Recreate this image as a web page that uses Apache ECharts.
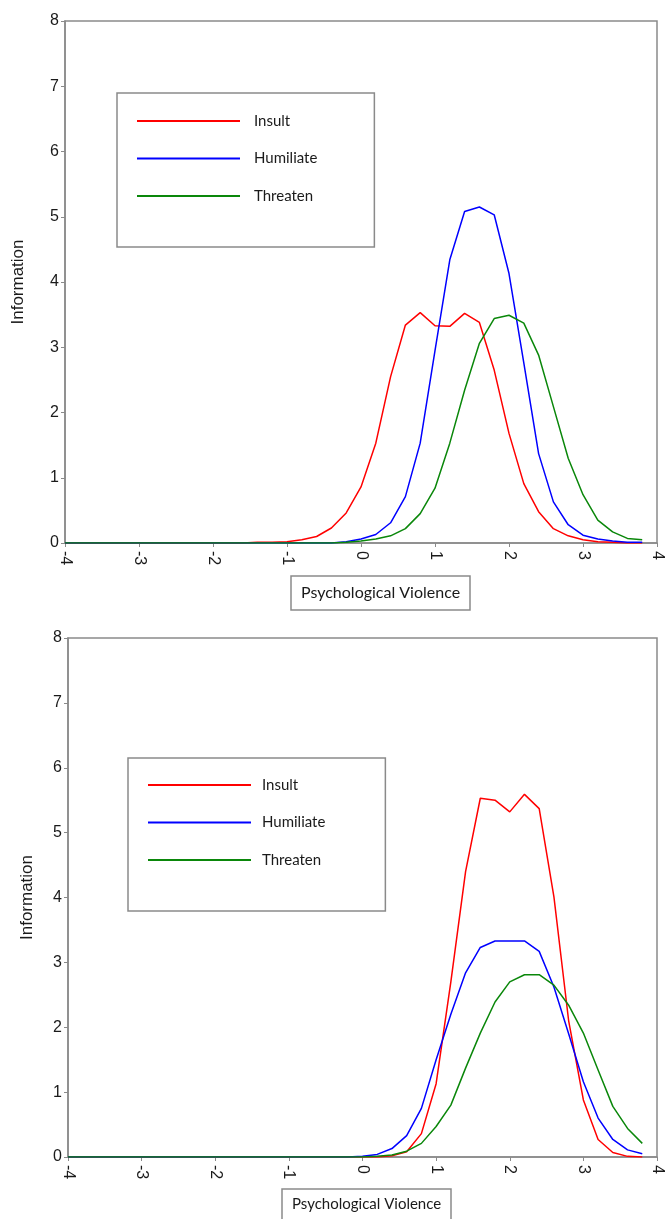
<!DOCTYPE html>
<html>
<head>
<meta charset="utf-8">
<script src="https://cdn.jsdelivr.net/npm/echarts@6/dist/echarts.min.js"></script>
<style>
html,body{margin:0;padding:0;background:#fff;}
#chart{width:665px;height:1219px;}
</style>
</head>
<body>
<div id="chart"></div>
<script>
const xs = [-4, -3.8, -3.6, -3.4, -3.2, -3, -2.8, -2.6, -2.4, -2.2, -2, -1.8, -1.6, -1.4, -1.2, -1, -0.8, -0.6, -0.4, -0.2, 0, 0.2, 0.4, 0.6, 0.8, 1, 1.2, 1.4, 1.6, 1.8, 2, 2.2, 2.4, 2.6, 2.8, 3, 3.2, 3.4, 3.6, 3.8];

const seriesNames = ['Insult', 'Humiliate', 'Threaten'];
const xAxisTitle = 'Psychological Violence';
const yAxisTitle = 'Information';

// Top panel
const topInsult = [0,0,0,0,0,0,0,0,0,0,0,0,0, 0.01,0.01,0.02,0.05,0.10,0.23,0.46,0.86,1.53,2.55,3.34,3.53,3.33,3.32,3.52,3.38,2.65,1.68,0.91,0.48,0.22,0.11,0.05,0.02,0.01,0,0];
const topHumiliate = [0,0,0,0,0,0,0,0,0,0,0,0,0,0,0,0,0,0,0, 0.02,0.06,0.13,0.31,0.71,1.53,2.95,4.34,5.08,5.15,5.03,4.13,2.76,1.37,0.63,0.28,0.12,0.06,0.03,0.01,0.01];
const topThreaten = [0,0,0,0,0,0,0,0,0,0,0,0,0,0,0,0,0,0,0, 0.01,0.03,0.06,0.11,0.22,0.45,0.84,1.53,2.34,3.06,3.44,3.49,3.37,2.88,2.09,1.30,0.74,0.35,0.17,0.07,0.05];

// Bottom panel
const botInsult = [0,0,0,0,0,0,0,0,0,0,0,0,0,0,0,0,0,0,0,0,0,0, 0.02,0.08,0.36,1.13,2.7,4.40,5.53,5.50,5.32,5.59,5.37,4.01,2.1,0.88,0.27,0.07,0.01,0];
const botHumiliate = [0,0,0,0,0,0,0,0,0,0,0,0,0,0,0,0,0,0,0,0, 0.01,0.04,0.13,0.33,0.75,1.5,2.2,2.84,3.23,3.33,3.33,3.33,3.17,2.62,1.9,1.16,0.6,0.27,0.11,0.05];
const botThreaten = [0,0,0,0,0,0,0,0,0,0,0,0,0,0,0,0,0,0,0,0,0, 0.01,0.03,0.09,0.21,0.47,0.8,1.37,1.91,2.39,2.7,2.81,2.81,2.65,2.34,1.91,1.34,0.78,0.44,0.21];

const colors = ['#ff0000', '#0000ff', '#0a870a'];
const GRAY = '#8a8a8a';
const TXT = '#1a1a1a';
const AXFONT = 'Liberation Sans, Arial, sans-serif';

function pairs(ys) { return xs.map((x, i) => [x, ys[i]]); }

function xAxisOpt(gridIndex) {
  return {
    type: 'value', gridIndex, min: -4, max: 4, interval: 1,
    axisLine: { show: true, onZero: false, lineStyle: { color: GRAY, width: 1.5 } },
    axisTick: { show: true, length: 4, lineStyle: { color: GRAY } },
    axisLabel: { rotate: -90, margin: 8, fontSize: 16, fontFamily: AXFONT, color: TXT },
    splitLine: { show: false }
  };
}
function yAxisOpt(gridIndex, gap) {
  return {
    type: 'value', gridIndex, min: 0, max: 8, interval: 1,
    name: yAxisTitle, nameLocation: 'middle', nameRotate: 90, nameGap: gap,
    nameTextStyle: { fontSize: 17, fontFamily: AXFONT, color: TXT },
    axisLine: { show: true, onZero: false, lineStyle: { color: GRAY, width: 1.5 } },
    axisTick: { show: true, length: 4, lineStyle: { color: GRAY } },
    axisLabel: { margin: 6, fontSize: 16, fontFamily: AXFONT, color: TXT },
    splitLine: { show: false }
  };
}
function legendOpt(left, top, padding, textPad) {
  return {
    orient: 'vertical', left, top, padding,
    data: seriesNames,
    icon: 'rect', itemWidth: 103, itemHeight: 2, itemGap: 19.5,
    borderColor: GRAY, borderWidth: 1.5, backgroundColor: '#fff',
    selectedMode: false,
    textStyle: { fontSize: 15, lineHeight: 18, fontFamily: 'Lato', color: TXT, padding: [0, 0, 0, textPad] }
  };
}
function titleOpt(left, top, fontSize, padding) {
  return {
    text: xAxisTitle, left, top, padding,
    borderColor: GRAY, borderWidth: 1.5,
    textStyle: { fontSize, fontWeight: 'normal', fontFamily: 'Lato', color: TXT, lineHeight: 20 }
  };
}

const chart = echarts.init(document.getElementById('chart'), null, { renderer: 'canvas' });
const series = [];
[[topInsult, topHumiliate, topThreaten], [botInsult, botHumiliate, botThreaten]].forEach((set, gi) => {
  set.forEach((ys, si) => {
    series.push({
      name: seriesNames[si], type: 'line', xAxisIndex: gi, yAxisIndex: gi,
      data: pairs(ys), symbol: 'none', showSymbol: false, animation: false,
      lineStyle: { width: 1.5, color: colors[si] }, itemStyle: { color: colors[si] }
    });
  });
});

chart.setOption({
  backgroundColor: '#fff',
  animation: false,
  title: [
    titleOpt(291, 576, 16, [7, 10, 7, 10]),
    titleOpt(282, 1189, 15, [5, 10, 6, 10])
  ],
  legend: [
    legendOpt(117, 93, [19, 57, 42, 20], 9),
    legendOpt(128, 758, [18, 60, 42, 20], 6)
  ],
  grid: [
    { left: 65, top: 21, width: 593, height: 522, show: true, borderColor: GRAY, borderWidth: 1.5, containLabel: false },
    { left: 68, top: 638, width: 594, height: 519, show: true, borderColor: GRAY, borderWidth: 1.5, containLabel: false }
  ],
  xAxis: [xAxisOpt(0), xAxisOpt(1)],
  yAxis: [yAxisOpt(0, 38.5), yAxisOpt(1, 32.5)],
  series
});
</script>
</body>
</html>
